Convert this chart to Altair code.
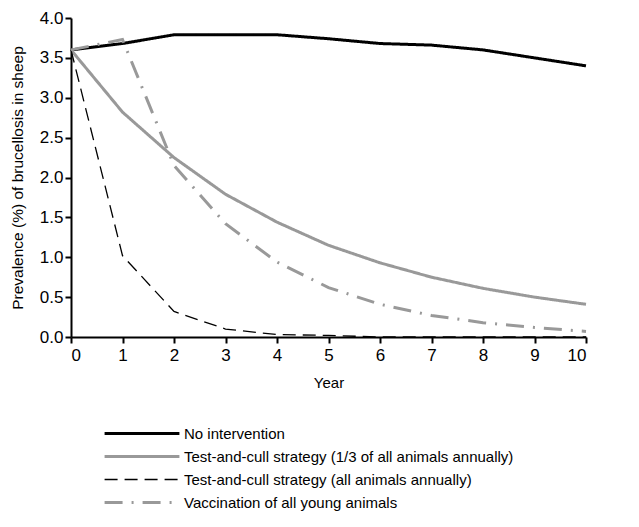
import altair as alt
import pandas as pd

years = list(range(0, 11))
series_names = [
    "No intervention",
    "Test-and-cull strategy (1/3 of all animals annually)",
    "Test-and-cull strategy (all animals annually)",
    "Vaccination of all young animals",
]
no_intervention = [3.6, 3.68, 3.79, 3.79, 3.79, 3.74, 3.68, 3.66, 3.6, 3.5, 3.4]
cull_third = [3.6, 2.82, 2.25, 1.79, 1.44, 1.15, 0.93, 0.75, 0.61, 0.5, 0.41]
cull_all = [3.6, 1.02, 0.32, 0.1, 0.03, 0.02, 0.0, 0.0, 0.0, 0.0, 0.0]
vaccination = [3.6, 3.73, 2.15, 1.42, 0.94, 0.62, 0.41, 0.27, 0.18, 0.12, 0.07]

rows = []
for name, vals in zip(series_names, [no_intervention, cull_third, cull_all, vaccination]):
    for y, v in zip(years, vals):
        rows.append({"Year": y, "Value": v, "Series": name})
df = pd.DataFrame(rows)

FONT = "Liberation Sans Narrow, Arial Narrow, Liberation Sans, Arial, sans-serif"
gray = "#999999"

legend = alt.Legend(
    title=None, orient="none", legendX=32, legendY=407, direction="vertical",
    symbolType="stroke", symbolSize=5600, clipHeight=17, labelFont=FONT,
    labelFontSize=15, labelLimit=0, labelColor="black", rowPadding=6,
    labelOffset=3, symbolOffset=0,
)

chart = alt.Chart(df).mark_line(clip=False).encode(
    x=alt.X("Year:Q", scale=alt.Scale(domain=[0, 10], nice=False),
            axis=alt.Axis(values=years, title="Year", grid=False, labelFontSize=17,
                          titleFontSize=15, titleFontWeight="normal", labelFont=FONT,
                          titleFont=FONT, domainColor="black", tickColor="black",
                          domainWidth=2, tickWidth=2, tickSize=6, labelColor="black",
                          titleColor="black", labelPadding=4, titlePadding=12)),
    y=alt.Y("Value:Q", scale=alt.Scale(domain=[0, 4], nice=False),
            axis=alt.Axis(values=[0, 0.5, 1, 1.5, 2, 2.5, 3, 3.5, 4], format=".1f",
                          title="Prevalence (%) of brucellosis in sheep", grid=False,
                          labelFontSize=17, titleFontSize=15.5, titleFontWeight="normal",
                          labelFont=FONT, titleFont=FONT, domainColor="black",
                          tickColor="black", domainWidth=2, tickWidth=2, tickSize=6,
                          labelColor="black", titleColor="black", labelPadding=2,
                          titlePadding=14)),
    color=alt.Color("Series:N", scale=alt.Scale(domain=series_names,
                    range=["black", gray, "black", gray]), legend=legend),
    strokeDash=alt.StrokeDash("Series:N", scale=alt.Scale(domain=series_names,
                    range=[[1, 0], [1, 0], [13, 7], [18, 9, 2, 9]]), legend=legend),
    strokeWidth=alt.StrokeWidth("Series:N", scale=alt.Scale(type="ordinal",
                    domain=series_names, range=[3, 3, 1.3, 3]), legend=legend),
    order=alt.Order("Year:Q"),
).properties(
    width=515, height=319,
    autosize=alt.AutoSizeParams(type="none"),
    padding={"left": 63, "top": 10, "right": 45, "bottom": 180},
).configure_view(stroke=None)

chart.save("out.html", embed_options={"renderer": "svg", "actions": False})
